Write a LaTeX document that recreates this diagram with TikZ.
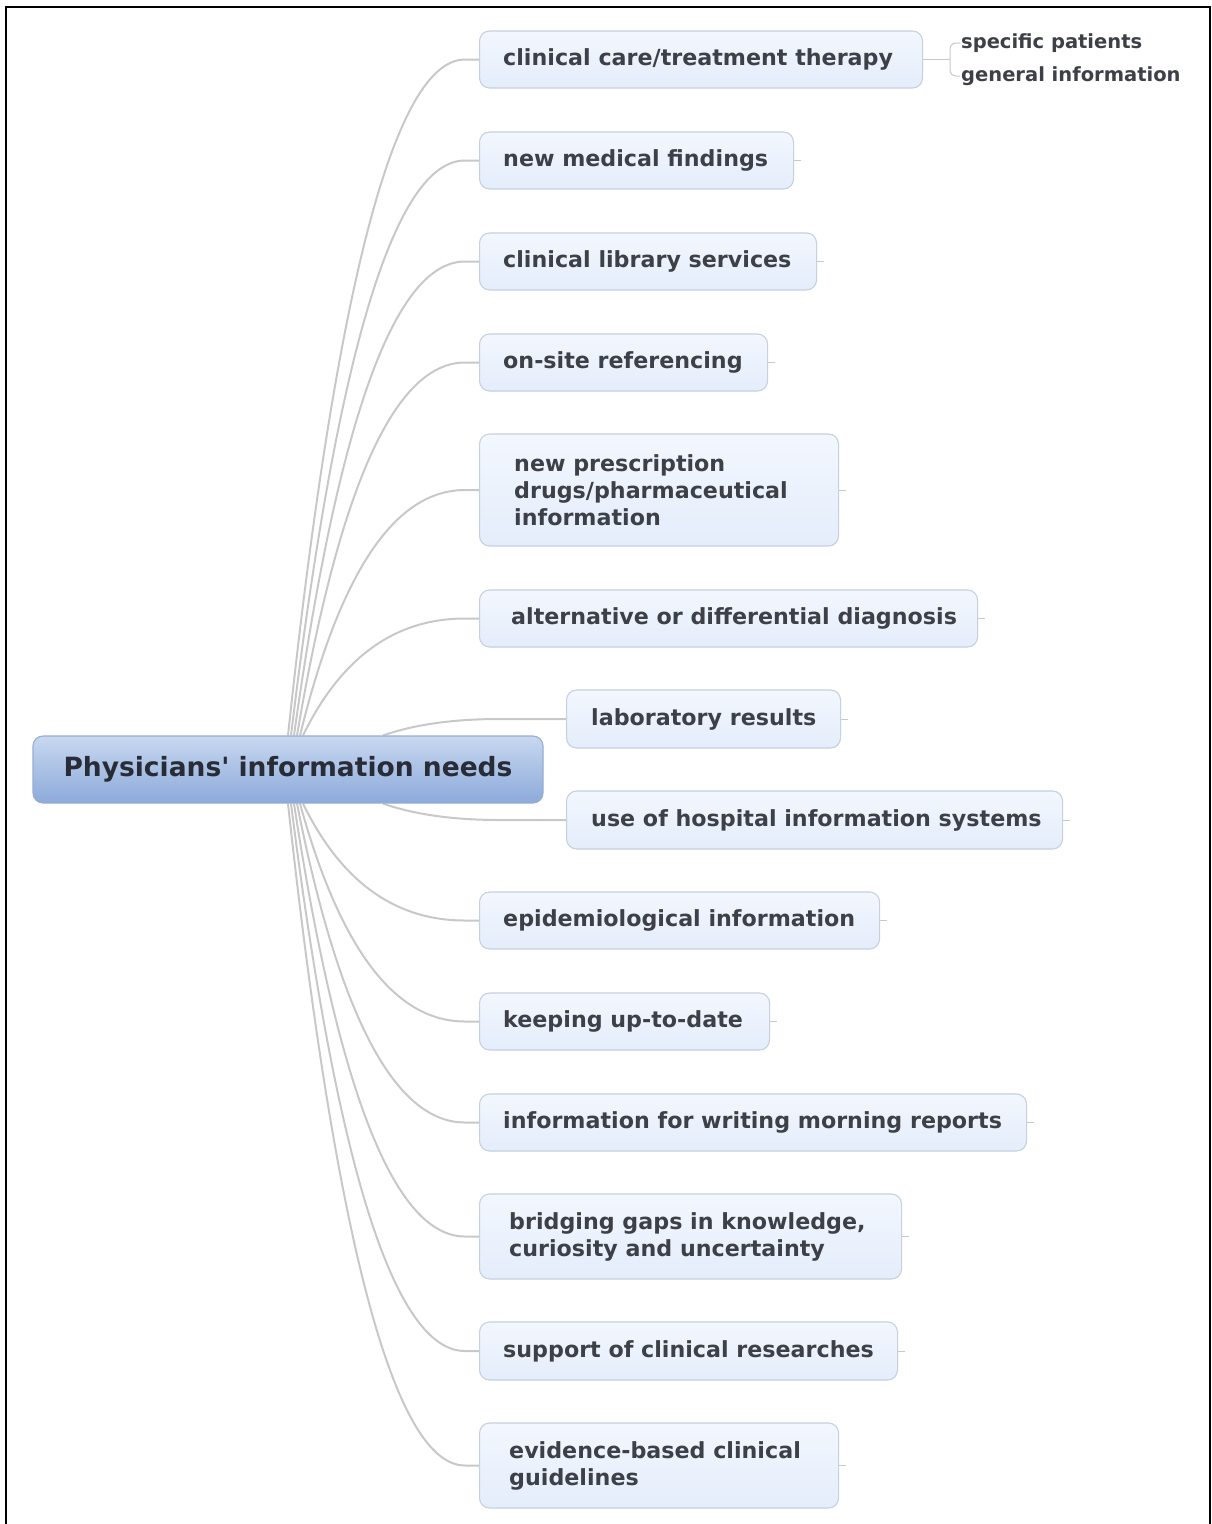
\documentclass[tikz,border=0pt]{standalone}
\usepackage{fontspec}
\setmainfont{DejaVu Sans}
\usetikzlibrary{calc,backgrounds}

\definecolor{txt}{RGB}{62,64,72}
\definecolor{roottxt}{RGB}{40,44,54}
\definecolor{link}{RGB}{200,200,200}
\definecolor{boxline}{RGB}{198,208,224}
\definecolor{boxtop}{RGB}{243,247,254}
\definecolor{boxbot}{RGB}{228,237,251}
\definecolor{roottop}{RGB}{200,216,240}
\definecolor{rootbot}{RGB}{140,170,218}
\definecolor{rootline}{RGB}{150,174,210}

\begin{document}
\begin{tikzpicture}[x=1pt,y=-1pt,
  topic/.style={draw=boxline, line width=1.1pt, rounded corners=10pt,
    top color=boxtop, bottom color=boxbot, anchor=west,
    inner sep=0pt, minimum height=57pt},
  topictext/.style={anchor=west, align=left, inner sep=0pt, text=txt,
    font=\fontsize{22.2}{27}\selectfont\bfseries},
  rootnode/.style={draw=rootline, line width=1.1pt, rounded corners=10pt,
    top color=roottop, bottom color=rootbot, text=roottxt,
    font=\fontsize{26.5}{30}\selectfont\bfseries,
    minimum width=510pt, minimum height=67pt, inner sep=0pt},
  leaf/.style={anchor=west, inner sep=1pt, text=txt,
    font=\fontsize{19.5}{22}\selectfont\bfseries},
  link/.style={draw=link, line width=2pt},
  stub/.style={draw=link, line width=1pt},
  frame/.style={draw=black, line width=2pt}]

\useasboundingbox (0,0) rectangle (1212,1524);
\draw[frame] (6,1560) -- (6,7) -- (1210,7) -- (1210,1560);

% central topic
\node[rootnode] (root) at (288,769.5) {Physicians\textquotesingle{} information needs};

% main topics: box, then its text placed from the left edge
\node[topic, minimum width=443pt] (c1) at (479,59.5) {};
\node[topictext] (c1t) at ($(c1.west)+(24,0)$) {clinical care/treatment therapy};
\node[topic, minimum width=314pt] (c2) at (479,160.5) {};
\node[topictext] (c2t) at ($(c2.west)+(24,0)$) {new medical findings};
\node[topic, minimum width=337pt] (c3) at (479,261.5) {};
\node[topictext] (c3t) at ($(c3.west)+(24,0)$) {clinical library services};
\node[topic, minimum width=288pt] (c4) at (479,362.5) {};
\node[topictext] (c4t) at ($(c4.west)+(24,0)$) {on-site referencing};
\node[topic, minimum width=359pt, minimum height=112pt] (c5) at (479,490) {};
\node[topictext] (c5t) at ($(c5.west)+(35,0)$) {new prescription\\drugs/pharmaceutical\\information};
\node[topic, minimum width=498pt] (c6) at (479,618.5) {};
\node[topictext] (c6t) at ($(c6.west)+(32,0)$) {alternative or differential diagnosis};
\node[topic, minimum width=274pt, minimum height=58pt] (c7) at (566,719) {};
\node[topictext] (c7t) at ($(c7.west)+(25,0)$) {laboratory results};
\node[topic, minimum width=496pt, minimum height=58pt] (c8) at (566,820) {};
\node[topictext] (c8t) at ($(c8.west)+(25,0)$) {use of hospital information systems};
\node[topic, minimum width=400pt] (c9) at (479,920.5) {};
\node[topictext] (c9t) at ($(c9.west)+(24,0)$) {epidemiological information};
\node[topic, minimum width=290pt] (c10) at (479,1021.5) {};
\node[topictext] (c10t) at ($(c10.west)+(24,0)$) {keeping up-to-date};
\node[topic, minimum width=547pt] (c11) at (479,1122.5) {};
\node[topictext] (c11t) at ($(c11.west)+(24,0)$) {information for writing morning reports};
\node[topic, minimum width=422pt, minimum height=85pt] (c12) at (479,1236.5) {};
\node[topictext] (c12t) at ($(c12.west)+(30,0)$) {bridging gaps in knowledge,\\curiosity and uncertainty};
\node[topic, minimum width=418pt, minimum height=58pt] (c13) at (479,1351) {};
\node[topictext] (c13t) at ($(c13.west)+(24,0)$) {support of clinical researches};
\node[topic, minimum width=359pt, minimum height=85pt] (c14) at (479,1465.5) {};
\node[topictext] (c14t) at ($(c14.west)+(30,0)$) {evidence-based clinical\\guidelines};

% sub-topics of the first branch
\node[leaf] (sp) at (960,43) {specific patients};
\node[leaf] (gi) at (960,76) {general information};
\coordinate (brk) at (950,59.5);

\begin{scope}[on background layer]
  % branches leaving the top of the central topic
  \foreach \t/\o in {c1/0,c2/3,c3/6,c4/9,c5/12,c6/15} {
    \coordinate (s) at ($(root.north)+(\o,0)$);
    \coordinate (e) at ($(\t.west)+(-14,0)$);
    \coordinate (k) at ($(\t.west)+(-119,0)$);
    \draw[link] (s) .. controls ($(s)!0.667!(k)$) and ($(e)!0.667!(k)$) .. (e) -- (\t.west);
  }
  % branches leaving the bottom of the central topic
  \foreach \t/\o in {c9/15,c10/12,c11/9,c12/6,c13/3,c14/0} {
    \coordinate (s) at ($(root.south)+(\o,0)$);
    \coordinate (e) at ($(\t.west)+(-14,0)$);
    \coordinate (k) at ($(\t.west)+(-119,0)$);
    \draw[link] (s) .. controls ($(s)!0.667!(k)$) and ($(e)!0.667!(k)$) .. (e) -- (\t.west);
  }
  % two nearly horizontal branches
  \coordinate (s) at ($(root.north)+(95,0)$);
  \coordinate (e) at ($(c7.west)+(-66,0)$);
  \coordinate (k) at ($(c7.west)+(-136,0)$);
  \draw[link] (s) .. controls ($(s)!0.667!(k)$) and ($(e)!0.667!(k)$) .. (e) -- (c7.west);
  \coordinate (s) at ($(root.south)+(95,0)$);
  \coordinate (e) at ($(c8.west)+(-66,0)$);
  \coordinate (k) at ($(c8.west)+(-136,0)$);
  \draw[link] (s) .. controls ($(s)!0.667!(k)$) and ($(e)!0.667!(k)$) .. (e) -- (c8.west);
\end{scope}

% collapse stubs on the right of each topic
\foreach \t in {c2,c3,c4,c5,c6,c7,c8,c9,c10,c11,c12,c13,c14} {
  \draw[stub] (\t.east) -- ++(7,0);
}

% bracket to the sub-topics
\draw[stub] (c1.east) -- (brk);
\draw[stub, rounded corners=6pt] (sp.west) -- (sp.west -| brk) -- (gi.west -| brk) -- (gi.west);

\end{tikzpicture}
\end{document}
